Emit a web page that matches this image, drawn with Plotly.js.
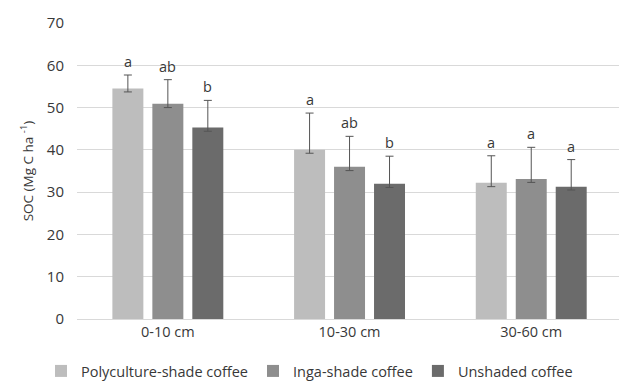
<!DOCTYPE html>
<html>
<head>
<meta charset="utf-8">
<script src="https://cdn.plot.ly/plotly-3.0.1.min.js"></script>
<style>html,body{margin:0;padding:0;background:#fff;}#chart{width:619px;height:387px;}</style>
</head>
<body>
<div id="chart"></div>
<script>
// Data
const depths = ["0-10 cm", "10-30 cm", "30-60 cm"];
const seriesNames = ["Polyculture-shade coffee", "Inga-shade coffee", "Unshaded coffee"];
const polyculture = [54.5, 40.0, 32.2];
const inga = [50.9, 36.0, 33.1];
const unshaded = [45.3, 32.0, 31.3];
const polycultureErrUp = [3.2, 8.7, 6.4];
const ingaErrUp = [5.7, 7.2, 7.5];
const unshadedErrUp = [6.4, 6.5, 6.4];
const polycultureErrDown = [0.8, 0.8, 0.9];
const ingaErrDown = [0.9, 0.9, 0.8];
const unshadedErrDown = [0.9, 0.9, 0.8];
const polycultureLetters = ["a", "a", "a"];
const ingaLetters = ["ab", "ab", "a"];
const unshadedLetters = ["b", "b", "a"];

const colors = ["#bdbdbd", "#8e8e8e", "#6b6b6b"];
const values = [polyculture, inga, unshaded];
const errUp = [polycultureErrUp, ingaErrUp, unshadedErrUp];
const errDown = [polycultureErrDown, ingaErrDown, unshadedErrDown];
const letters = [polycultureLetters, ingaLetters, unshadedLetters];

const textColor = "#383838";

const traces = values.map((v, i) => ({
  type: "bar",
  name: seriesNames[i],
  x: depths,
  y: v,
  marker: {color: colors[i], line: {color: colors[i], width: 0}},
  error_y: {type: "data", symmetric: false, array: errUp[i], arrayminus: errDown[i],
            color: "#555555", thickness: 1, width: 4}
}));

// letter annotations placed above error bars
const slotPx = 40; // pixel distance between bar centers within a group
const annotations = [];
values.forEach((v, i) => {
  v.forEach((val, j) => {
    annotations.push({
      x: depths[j], y: val + errUp[i][j], xref: "x", yref: "y",
      text: letters[i][j], showarrow: false, yanchor: "bottom", yshift: 2,
      xshift: (i - 1) * slotPx,
      font: {family: "Open Sans, sans-serif", size: 14.5, color: textColor}
    });
  });
});

const layout = {
  width: 619, height: 387,
  margin: {l: 77, r: 0, t: 23, b: 68},
  paper_bgcolor: "#fff", plot_bgcolor: "#fff",
  font: {family: "Open Sans, sans-serif", size: 14, color: textColor},
  barmode: "group", bargap: 0.34, bargroupgap: 0.225,
  showlegend: true,
  legend: {orientation: "h", x: 0.5, xref: "container", xanchor: "center", y: 0.0, yref: "container", yanchor: "bottom",
           font: {size: 14.5, color: textColor}, traceorder: "normal", itemclick: false},
  xaxis: {range: [-0.5, 2.483], showgrid: false, showline: true, linecolor: "#d9d9d9", linewidth: 1,
          ticks: "", tickfont: {size: 14.5, color: textColor}, fixedrange: true},
  yaxis: {range: [0, 70], dtick: 10, showgrid: true, gridcolor: "#d9d9d9", gridwidth: 1, zeroline: false,
          showline: false, ticks: "", ticklabelstandoff: 12,
          tickfont: {size: 15, color: textColor},
          title: {text: "SOC (Mg C ha <sup>-1</sup>)", font: {size: 13.5, color: textColor}, standoff: 10}},
  annotations: annotations
};

Plotly.newPlot("chart", traces, layout, {displayModeBar: false, staticPlot: true});
</script>
</body>
</html>
